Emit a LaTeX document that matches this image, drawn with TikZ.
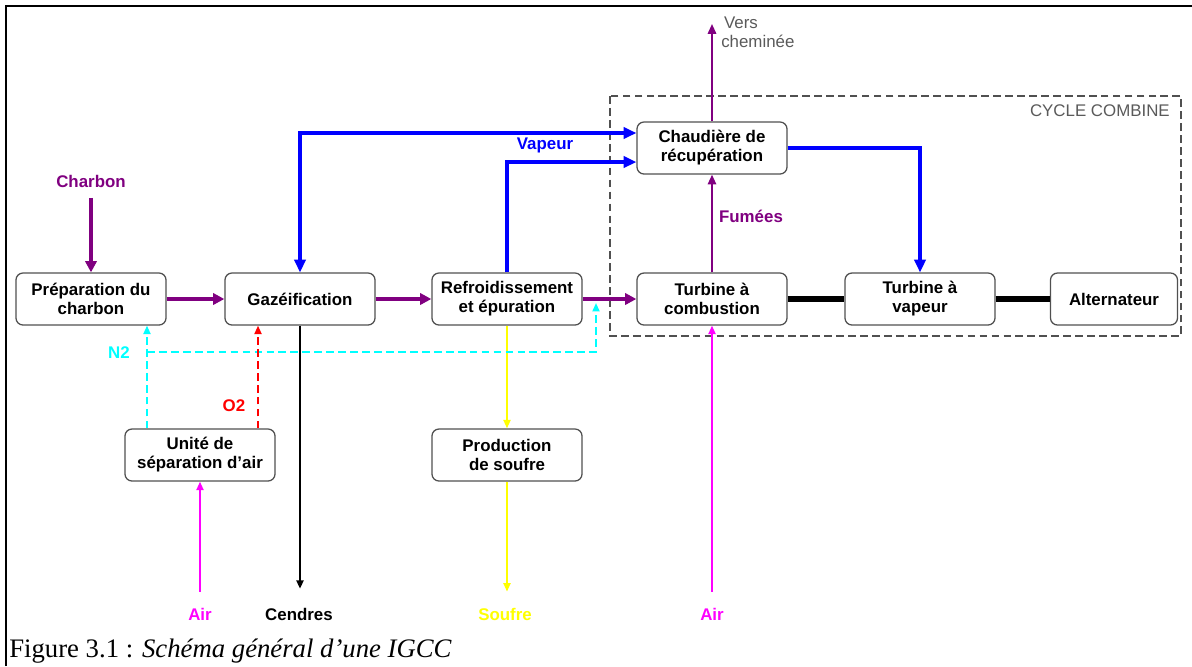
\documentclass[tikz,border=0pt]{standalone}
\usepackage{fontspec}
\setmainfont{Liberation Serif}
\setsansfont{Liberation Sans}
\usetikzlibrary{arrows.meta,positioning}
\definecolor{flux}{RGB}{128,0,128}
\definecolor{vap}{RGB}{0,0,255}
\definecolor{azote}{RGB}{0,255,255}
\definecolor{oxy}{RGB}{255,0,0}
\definecolor{airc}{RGB}{255,0,255}
\definecolor{soufc}{RGB}{255,255,0}
\definecolor{gristxt}{RGB}{90,90,90}
\definecolor{bord}{RGB}{80,80,80}
\begin{document}
\begin{tikzpicture}[x=0.025cm,y=-0.025cm,font=\sffamily\bfseries\fontsize{12}{13.5}\selectfont,
  bloc/.style={draw=bord,line width=0.9pt,rounded corners=5pt,minimum width=3.75cm,minimum height=1.3cm,align=center,inner sep=1pt},
  fl/.style={draw=flux,line width=2.2pt,-{Triangle[length=8pt,width=8pt]}},
  flfin/.style={draw=flux,line width=1.3pt,-{Triangle[length=7pt,width=6pt]}},
  vp/.style={draw=vap,line width=2.2pt,-{Triangle[length=9pt,width=8pt]}},
  fin/.style={line width=1.3pt,-{Triangle[length=6pt,width=5pt]}},
  pointille/.style={fin,dash pattern=on 5.5pt off 3pt},
  arbre/.style={line width=3.6pt},
  gris/.style={text=gristxt,font=\sffamily\mdseries\fontsize{12}{13.5}\selectfont}]
\useasboundingbox (0,0) rectangle (1192,666);
\draw[line width=1.5pt] (6,666) -- (6,6) -- (1192,6);

% cycle combine
\draw[draw=bord,line width=1.4pt,dash pattern=on 5.5pt off 3pt] (610,96) rectangle (1181,336);
\node[gris,anchor=north east,inner sep=0pt] (cc) at (1170,104) {CYCLE COMBINE};

% blocs
\node[bloc] (prep) at (91,299) {Préparation du\\charbon};
\node[bloc] (gaz) at (300,299) {Gazéification};
\node[bloc] (refr) at (507,299) {Refroidissement\\et épuration};
\node[bloc] (tac) at (712,299) {Turbine à\\combustion};
\node[bloc] (tav) at (920,299) {Turbine à\\vapeur};
\node[bloc,minimum width=3.175cm] (alt) at (1114,299) {Alternateur};
\node[bloc] (chaud) at (712,148) {Chaudière de\\récupération};
\node[bloc] (asu) at (200,455) {Unité de\\séparation d'air};
\node[bloc] (prod) at (507,455) {Production\\de soufre};

% etiquettes
\node[text=flux] (charbon) at (91,181) {Charbon};
\node[text=vap] (vapeur) at (545,145) {Vapeur};
\node[text=flux] (fumees) at (751,216) {Fumées};
\node[text=azote] (n2) at (119,353) {N2};
\node[text=oxy] (o2) at (234,406) {O2};
\node[text=airc] (air1) at (200,614) {Air};
\node (cendres) at (299,614) {Cendres};
\node[text=soufc] (soufre) at (505,614) {Soufre};
\node[text=airc] (air2) at (712,614) {Air};
\node[gris,anchor=west,align=left,inner sep=0pt] (chem) at (721,32) {\hspace*{2pt}Vers\\cheminée};
\coordinate (sortie) at (712,24);
\coordinate (nj) at (147,352);
\coordinate (nc) at (596,303);

% flux principal
\draw[fl,shorten <=4pt] (charbon) -- (prep);
\draw[fl] (prep) -- (gaz);
\draw[fl] (gaz) -- (refr);
\draw[fl] (refr) -- (tac);
\draw[flfin] (tac) -- (chaud);
\draw[flfin] (chaud) -- (sortie);

% vapeur
\draw[vp,{Triangle[length=9pt,width=8pt]}-{Triangle[length=9pt,width=8pt]}] (gaz.north) |- ([yshift=0.375cm]chaud.west);
\draw[vp] (refr.north) |- ([yshift=-0.35cm]chaud.west);
\draw[vp] (chaud.east) -| (tav.north);

% arbres
\draw[arbre] (tac) -- (tav);
\draw[arbre] (tav) -- (alt);

% gaz, air, soufre
\draw[fin,line width=1.5pt,shorten >=10pt] (gaz.south) -- (gaz.south |- cendres.north);
\draw[fin,draw=soufc] (refr) -- (prod);
\draw[fin,draw=soufc,shorten >=8pt] (prod.south) -- (prod.south |- soufre.north);
\draw[fin,draw=airc,shorten <=8pt] (air1.north) -- (asu);
\draw[fin,draw=airc,shorten <=8pt] (air2.north) -- (tac);
\draw[pointille,draw=azote] ([xshift=-1.325cm]asu.north) coordinate (n2a) -- (n2a |- prep.south);
\draw[pointille,draw=azote] (nj) -| (nc);
\draw[pointille,draw=oxy] ([xshift=1.45cm]asu.north) coordinate (o2a) -- (o2a |- gaz.south);

\node[anchor=west,font=\rmfamily\fontsize{19}{21}\selectfont,inner sep=0pt] (legende) at (9,651) {Figure 3.1 : \textit{Schéma général d’une IGCC}};
\end{tikzpicture}
\end{document}
